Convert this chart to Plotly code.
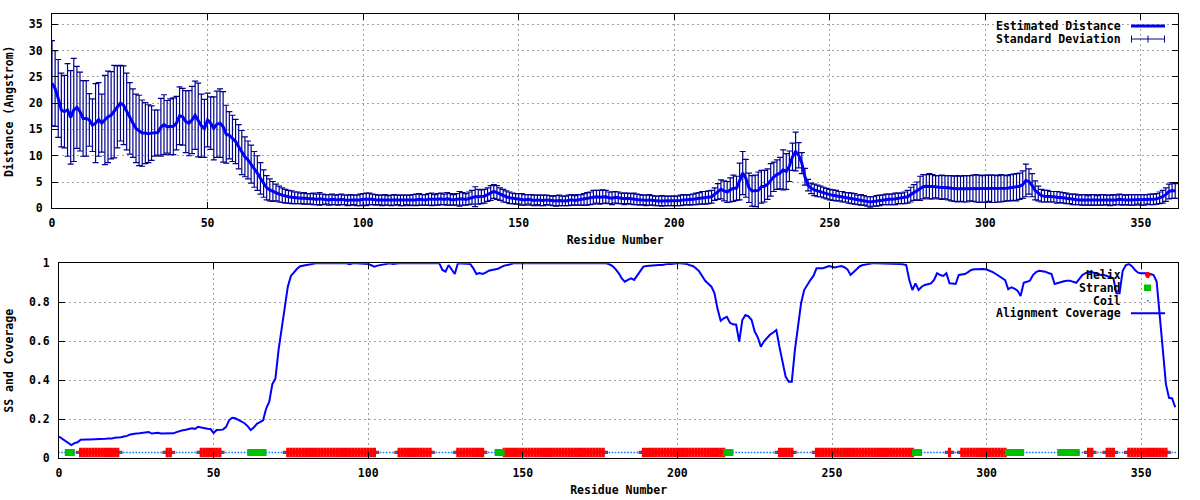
import plotly.graph_objects as go

# ---------------- data ----------------
residue = list(range(362))

est_distance = [
    23.8, 22.8, 20.9, 18.7, 18.4, 18.7, 17.3, 18.7, 19.2, 18.4,
    17.1, 17.1, 16.8, 15.8, 16.2, 16.9, 16.2, 16.8, 17.4, 17.7,
    18.4, 19.3, 20.0, 19.6, 18.4, 17.1, 16.2, 15.2, 14.8, 14.3,
    14.3, 14.2, 14.3, 14.3, 14.4, 15.4, 15.9, 15.5, 15.5, 15.6,
    16.2, 17.6, 17.4, 16.5, 16.2, 16.8, 17.7, 16.8, 15.7, 15.2,
    16.8, 16.2, 15.2, 16.0, 16.2, 15.5, 14.1, 13.9, 13.3, 12.7,
    11.7, 10.6, 9.8, 9.2, 8.4, 7.4, 6.7, 5.7, 4.7, 3.9,
    3.5, 3.2, 3.0, 2.7, 2.5, 2.3, 2.2, 2.1, 2.0, 2.0,
    1.9, 1.9, 1.8, 1.8, 1.8, 1.7, 1.8, 1.7, 1.7, 1.6,
    1.7, 1.6, 1.6, 1.7, 1.6, 1.5, 1.6, 1.6, 1.5, 1.6,
    1.7, 1.7, 1.8, 1.7, 1.6, 1.6, 1.5, 1.6, 1.5, 1.5,
    1.6, 1.6, 1.5, 1.5, 1.6, 1.5, 1.6, 1.6, 1.7, 1.6,
    1.6, 1.7, 1.7, 1.6, 1.7, 1.8, 1.7, 1.8, 1.7, 1.6,
    1.7, 1.8, 1.8, 1.7, 1.9, 2.1, 2.2, 2.2, 2.2, 2.3,
    2.6, 2.9, 3.2, 3.0, 2.7, 2.4, 2.2, 2.0, 1.9, 1.8,
    1.8, 1.7, 1.6, 1.7, 1.6, 1.5, 1.6, 1.5, 1.5, 1.6,
    1.5, 1.4, 1.4, 1.5, 1.4, 1.4, 1.5, 1.6, 1.5, 1.6,
    1.6, 1.7, 1.8, 1.9, 2.1, 2.2, 2.1, 2.2, 2.2, 2.0,
    1.9, 2.1, 2.0, 1.9, 1.8, 1.9, 1.8, 1.8, 1.7, 1.6,
    1.6, 1.5, 1.6, 1.5, 1.4, 1.4, 1.4, 1.4, 1.4, 1.4,
    1.4, 1.4, 1.5, 1.6, 1.6, 1.6, 1.7, 1.8, 1.9, 2.0,
    2.0, 2.1, 2.2, 2.7, 3.2, 3.6, 3.3, 3.1, 3.5, 3.8,
    3.8, 5.1, 6.7, 5.7, 3.9, 3.3, 3.3, 3.4, 4.1, 4.2,
    4.6, 5.4, 6.0, 6.4, 6.7, 7.3, 7.0, 8.0, 9.8, 10.8,
    10.1, 8.6, 6.0, 4.4, 3.8, 3.5, 3.3, 3.2, 3.0, 2.8,
    2.6, 2.5, 2.4, 2.3, 2.2, 2.1, 2.0, 1.9, 1.8, 1.6,
    1.6, 1.5, 1.3, 1.2, 1.3, 1.4, 1.5, 1.6, 1.7, 1.7,
    1.7, 1.8, 1.9, 1.9, 2.0, 2.2, 2.6, 3.0, 3.3, 3.8,
    4.1, 4.2, 4.2, 4.1, 4.1, 4.0, 4.0, 4.0, 3.9, 3.8,
    3.7, 3.7, 3.7, 3.7, 3.7, 3.8, 3.8, 3.8, 3.7, 3.7,
    3.7, 3.8, 3.7, 3.7, 3.7, 3.8, 3.8, 3.8, 3.9, 4.0,
    4.0, 4.2, 4.5, 5.3, 5.1, 4.4, 3.4, 2.8, 2.4, 2.3,
    2.3, 2.2, 2.2, 2.1, 2.1, 2.0, 1.9, 1.8, 1.7, 1.7,
    1.6, 1.6, 1.6, 1.5, 1.6, 1.6, 1.5, 1.6, 1.6, 1.6,
    1.5, 1.6, 1.6, 1.7, 1.6, 1.6, 1.6, 1.6, 1.6, 1.7,
    1.6, 1.6, 1.7, 1.7, 1.7, 1.8, 2.0, 2.2, 2.6, 3.2,
    3.4, 3.3,
]

std_dev = [
    8.1, 7.2, 7.4, 7.0, 6.9, 8.8, 8.9, 9.8, 7.8, 7.5,
    7.2, 7.2, 5.0, 5.0, 7.5, 7.0, 5.5, 8.5, 8.7, 8.3,
    8.8, 7.8, 7.2, 7.5, 7.3, 6.8, 6.5, 6.5, 6.7, 6.3,
    5.8, 5.5, 5.2, 4.4, 4.3, 5.5, 5.7, 5.0, 5.3, 5.4,
    5.1, 5.5, 5.4, 5.9, 6.2, 6.4, 6.5, 7.0, 6.0, 5.5,
    5.1, 5.0, 6.0, 6.3, 6.5, 6.7, 5.5, 4.5, 4.4, 4.2,
    4.2, 4.2, 3.8, 3.6, 3.6, 3.4, 3.3, 3.0, 2.6, 2.3,
    2.1, 1.9, 1.6, 1.5, 1.4, 1.3, 1.2, 1.2, 1.1, 1.1,
    1.0, 1.1, 1.0, 1.0, 1.1, 1.0, 1.2, 1.0, 0.9, 1.0,
    1.0, 0.9, 1.0, 1.0, 0.9, 1.0, 1.0, 0.9, 1.0, 1.1,
    1.1, 1.2, 1.1, 1.0, 1.0, 0.9, 1.0, 1.0, 0.9, 1.0,
    1.0, 0.9, 1.0, 1.0, 0.9, 1.0, 1.0, 1.1, 1.1, 1.0,
    1.0, 1.1, 1.2, 1.0, 1.1, 1.1, 1.0, 1.2, 1.1, 1.0,
    1.1, 1.4, 1.2, 1.1, 1.2, 1.3, 1.9, 1.4, 1.3, 1.3,
    1.3, 1.4, 1.3, 1.3, 1.2, 1.2, 1.1, 1.1, 1.0, 1.0,
    1.0, 1.1, 1.0, 0.9, 1.0, 1.0, 0.9, 1.0, 1.0, 0.9,
    0.9, 0.9, 1.0, 1.0, 0.9, 0.9, 1.0, 1.0, 0.9, 1.0,
    1.0, 1.1, 1.2, 1.2, 1.3, 1.2, 1.3, 1.3, 1.2, 1.1,
    1.2, 1.1, 1.1, 1.0, 1.1, 1.0, 1.0, 1.1, 1.0, 1.0,
    0.9, 1.0, 1.0, 0.9, 0.9, 0.9, 1.0, 0.9, 0.9, 0.9,
    0.9, 0.9, 1.0, 1.0, 0.9, 1.0, 1.0, 1.1, 1.1, 1.2,
    1.2, 1.2, 1.2, 1.2, 1.5, 1.8, 1.9, 2.0, 2.3, 2.5,
    2.3, 3.5, 4.1, 3.6, 2.8, 2.9, 3.0, 3.5, 3.1, 3.0,
    2.9, 3.1, 2.8, 2.8, 3.0, 3.8, 3.4, 2.9, 2.6, 3.7,
    2.4, 2.0, 1.6, 1.1, 1.0, 1.1, 1.1, 1.0, 1.0, 1.0,
    1.0, 1.0, 1.0, 0.9, 1.0, 0.9, 1.0, 1.0, 1.0, 0.9,
    1.0, 0.9, 0.9, 1.0, 0.9, 1.0, 1.0, 0.9, 1.0, 1.0,
    1.0, 1.1, 1.0, 1.0, 1.1, 1.2, 1.4, 1.5, 1.7, 2.3,
    2.3, 2.2, 2.4, 2.3, 2.1, 2.2, 2.3, 2.2, 2.3, 2.4,
    2.4, 2.5, 2.4, 2.5, 2.5, 2.4, 2.5, 2.6, 2.6, 2.5,
    2.6, 2.5, 2.6, 2.6, 2.5, 2.6, 2.5, 2.4, 2.5, 2.5,
    2.6, 2.5, 2.6, 3.1, 2.4, 2.2, 1.8, 1.4, 1.2, 1.1,
    1.1, 1.0, 1.0, 1.1, 1.0, 1.0, 1.0, 0.9, 1.0, 1.0,
    0.9, 1.0, 1.0, 0.9, 1.0, 1.0, 0.9, 1.0, 1.0, 0.9,
    1.0, 1.0, 0.9, 1.0, 1.0, 0.9, 1.0, 1.0, 1.0, 0.9,
    1.0, 1.0, 0.9, 1.0, 1.0, 1.0, 1.1, 1.2, 1.3, 1.4,
    1.5, 1.4,
]

coverage = [
    0.111, 0.100, 0.090, 0.075, 0.068, 0.078, 0.082, 0.095, 0.097, 0.097,
    0.097, 0.097, 0.097, 0.097, 0.098, 0.100, 0.101, 0.101, 0.105, 0.106,
    0.108, 0.112, 0.115, 0.122, 0.126, 0.127, 0.128, 0.131, 0.133, 0.135,
    0.127, 0.128, 0.131, 0.127, 0.127, 0.127, 0.127, 0.128, 0.134, 0.141,
    0.144, 0.146, 0.152, 0.154, 0.151, 0.162, 0.158, 0.153, 0.152, 0.150,
    0.130, 0.145, 0.146, 0.147, 0.160, 0.195, 0.208, 0.205, 0.197, 0.188,
    0.180, 0.165, 0.145, 0.158, 0.177, 0.185, 0.195, 0.255, 0.290, 0.380,
    0.410, 0.555, 0.660, 0.780, 0.880, 0.935, 0.955, 0.972, 0.985, 0.988,
    0.992, 0.995, 0.997, 1.0, 1.0, 1.0, 1.0, 1.0, 1.0, 1.0,
    1.0, 1.0, 1.0, 1.0, 0.995, 1.0, 1.0, 1.0, 1.0, 1.0,
    0.997, 0.990, 0.983, 0.988, 0.991, 0.995, 0.997, 1.0, 0.997, 1.0,
    1.0, 1.0, 1.0, 1.0, 1.0, 1.0, 1.0, 1.0, 1.0, 1.0,
    1.0, 1.0, 1.0, 1.0, 0.966, 0.957, 0.991, 0.966, 0.945, 1.0,
    1.0, 1.0, 1.0, 0.997, 0.974, 0.945, 0.950, 0.945, 0.952, 0.962,
    0.966, 0.969, 0.972, 0.980, 0.988, 0.991, 0.995, 1.0, 1.0, 1.0,
    1.0, 1.0, 1.0, 1.0, 1.0, 1.0, 1.0, 1.0, 1.0, 1.0,
    1.0, 1.0, 1.0, 1.0, 1.0, 1.0, 1.0, 1.0, 1.0, 1.0,
    1.0, 1.0, 1.0, 1.0, 1.0, 1.0, 1.0, 1.0, 0.995, 0.986,
    0.970, 0.950, 0.923, 0.906, 0.915, 0.923, 0.915, 0.940, 0.960, 0.983,
    0.986, 0.988, 0.988, 0.990, 0.991, 0.991, 0.995, 0.997, 0.997, 1.0,
    1.0, 1.0, 0.997, 0.997, 0.990, 0.986, 0.975, 0.960, 0.935, 0.910,
    0.895, 0.880, 0.846, 0.765, 0.705, 0.718, 0.726, 0.695, 0.687, 0.685,
    0.598, 0.709, 0.735, 0.728, 0.709, 0.650, 0.620, 0.572, 0.600, 0.620,
    0.635, 0.645, 0.658, 0.572, 0.487, 0.419, 0.393, 0.393, 0.555, 0.667,
    0.795, 0.863, 0.890, 0.914, 0.935, 0.974, 0.974, 0.974, 0.980, 0.986,
    0.982, 0.979, 0.983, 0.986, 0.980, 0.969, 0.940, 0.955, 0.974, 0.985,
    0.991, 0.995, 0.997, 1.0, 1.0, 1.0, 1.0, 1.0, 1.0, 1.0,
    1.0, 0.997, 0.997, 0.995, 0.991, 0.914, 0.863, 0.897, 0.863, 0.880,
    0.889, 0.893, 0.897, 0.915, 0.949, 0.940, 0.935, 0.949, 0.897, 0.896,
    0.894, 0.940, 0.942, 0.945, 0.955, 0.966, 0.969, 0.970, 0.971, 0.971,
    0.968, 0.962, 0.955, 0.945, 0.935, 0.925, 0.914, 0.867, 0.877, 0.870,
    0.860, 0.832, 0.900, 0.905, 0.911, 0.940, 0.955, 0.962, 0.960, 0.957,
    0.950, 0.945, 0.894, 0.900, 0.906, 0.908, 0.911, 0.911, 0.905, 0.900,
    0.920, 0.940, 0.950, 0.957, 0.955, 0.950, 0.945, 0.940, 0.940, 0.935,
    0.930, 0.923, 0.846, 0.846, 0.960, 0.990, 0.997, 0.985, 0.966, 0.952,
    0.949, 0.949, 0.949, 0.945, 0.940, 0.906, 0.726, 0.555, 0.380, 0.310,
    0.307, 0.262,
]

# secondary structure segments (first residue, last residue)
helix_segments = [(7, 19), (35, 36), (46, 52), (74, 102), (110, 120), (129, 137),
                  (144, 176), (189, 215), (233, 237), (245, 276), (288, 288),
                  (292, 306), (333, 334), (339, 341), (346, 358)]
strand_segments = [(3, 4), (62, 66), (142, 143), (216, 217), (277, 278),
                   (307, 311), (324, 329)]
SS_LEVEL = 0.03

x_ticks = [0, 50, 100, 150, 200, 250, 300, 350]
dist_ticks = [0, 5, 10, 15, 20, 25, 30, 35]
cov_ticks = [0, 0.2, 0.4, 0.6, 0.8, 1]

assert len(est_distance) == len(residue) == len(std_dev) == len(coverage)

# ---------------- derived ----------------
helix_res = [r for a, b in helix_segments for r in range(a, b + 1)]
strand_res = [r for a, b in strand_segments for r in range(a, b + 1)]
ss_taken = set(helix_res) | set(strand_res)
coil_res = [r for r in residue if r not in ss_taken]

W, H = 1200, 500
def px(x):
    return x / W
def py(y):
    return 1 - y / H

FONT = dict(family="DejaVu Sans Mono", size=11.5, color="black", weight="bold")
BLUE = "#0000ff"
NAVY = "#00008b"

fig = go.Figure()

# ---- top panel ----
fig.add_trace(go.Scatter(
    x=residue, y=est_distance, mode="markers",
    marker=dict(size=1, color=NAVY),
    error_y=dict(type="data", array=std_dev, visible=True, color=NAVY,
                 thickness=1.2, width=3),
    name="Standard Deviation", showlegend=False, xaxis="x", yaxis="y",
))
fig.add_trace(go.Scatter(
    x=residue, y=est_distance, mode="lines",
    line=dict(color=BLUE, width=3),
    name="Estimated Distance", showlegend=False, xaxis="x", yaxis="y",
))

# ---- bottom panel ----
fig.add_trace(go.Scatter(
    x=helix_res, y=[SS_LEVEL] * len(helix_res), mode="markers",
    marker=dict(symbol="cross", size=8, color="#ff0000", line=dict(width=0)),
    name="Helix", showlegend=False, xaxis="x2", yaxis="y2",
))
fig.add_trace(go.Scatter(
    x=strand_res, y=[SS_LEVEL] * len(strand_res), mode="markers",
    marker=dict(symbol="square", size=7, color="#00c000", line=dict(width=0)),
    name="Strand", showlegend=False, xaxis="x2", yaxis="y2",
))
fig.add_trace(go.Scatter(
    x=coil_res, y=[SS_LEVEL] * len(coil_res), mode="markers",
    marker=dict(symbol="square", size=1.6, color="#0080ff", line=dict(width=0)),
    name="Coil", showlegend=False, xaxis="x2", yaxis="y2",
))
fig.add_trace(go.Scatter(
    x=residue, y=coverage, mode="lines",
    line=dict(color=BLUE, width=2),
    name="Alignment Coverage", showlegend=False, xaxis="x2", yaxis="y2",
))

axis_common = dict(
    showline=True, linecolor="black", linewidth=1, mirror="ticks",
    ticks="inside", ticklen=6, tickcolor="black", tickwidth=1,
    showgrid=True, gridcolor="#a0a0a0", gridwidth=1, griddash="2px,3px",
    zeroline=False, tickfont=FONT, automargin=False,
)

fig.update_layout(
    width=W, height=H,
    margin=dict(l=0, r=0, t=0, b=0),
    paper_bgcolor="white", plot_bgcolor="white",
    font=FONT,
    showlegend=False,
    xaxis=dict(axis_common, domain=[px(52), px(1178.3)], range=[0, 362],
               tickvals=x_ticks, anchor="y", ticklabelstandoff=4,
               title=dict(text="Residue Number", font=FONT, standoff=6)),
    yaxis=dict(axis_common, domain=[py(208.3), py(14.3)], range=[0, 36.9],
               tickvals=dist_ticks, anchor="x", ticklabelstandoff=6,
               title=dict(text="Distance (Angstrom)", font=FONT, standoff=12)),
    xaxis2=dict(axis_common, domain=[px(59), px(1178.3)], range=[0, 362],
                tickvals=x_ticks, anchor="y2", ticklabelstandoff=4,
                title=dict(text="Residue Number", font=FONT, standoff=6)),
    yaxis2=dict(axis_common, domain=[py(458.3), py(263.3)], range=[0, 1],
                tickvals=cov_ticks, anchor="x2", ticklabelstandoff=6,
                title=dict(text="SS and Coverage", font=FONT, standoff=12)),
)

shapes = []
# clear the grid behind the keys (gnuplot style)
shapes.append(dict(type="rect", xref="paper", yref="paper", layer="between",
                   x0=px(985), x1=px(1177.8), y0=py(48), y1=py(14.8),
                   fillcolor="white", line=dict(width=0)))
shapes.append(dict(type="rect", xref="paper", yref="paper", layer="between",
                   x0=px(998), x1=px(1177.8), y0=py(318), y1=py(263.8),
                   fillcolor="white", line=dict(width=0)))

# key samples
def hline(x0, x1, y, color, width):
    return dict(type="line", xref="paper", yref="paper", x0=px(x0), x1=px(x1),
                y0=py(y), y1=py(y), line=dict(color=color, width=width))
def vline(x, y0, y1, color, width):
    return dict(type="line", xref="paper", yref="paper", x0=px(x), x1=px(x),
                y0=py(y0), y1=py(y1), line=dict(color=color, width=width))
def box(x0, x1, y0, y1, color):
    return dict(type="rect", xref="paper", yref="paper", x0=px(x0), x1=px(x1),
                y0=py(y1), y1=py(y0), fillcolor=color, line=dict(width=0))

shapes.append(hline(1131, 1165, 26, BLUE, 3))
shapes.append(hline(1131, 1165, 39, NAVY, 1))
shapes.append(vline(1131.5, 35.5, 42.5, NAVY, 1))
shapes.append(vline(1164.5, 35.5, 42.5, NAVY, 1))
shapes.append(vline(1148, 35.5, 42.5, NAVY, 1))
shapes.append(box(1145, 1150.5, 273.5, 276.5, "#ff0000"))
shapes.append(box(1146.3, 1149.2, 272, 278, "#ff0000"))
shapes.append(box(1144, 1151, 284.5, 291, "#00c000"))
shapes.append(box(1147, 1148.6, 300, 301.6, "#0080ff"))
shapes.append(hline(1131, 1165, 313.3, BLUE, 2))
fig.update_layout(shapes=shapes)

annotations = []
for text, y in [("Estimated Distance", 26), ("Standard Deviation", 39),
                ("Helix", 275), ("Strand", 288), ("Coil", 300.7),
                ("Alignment Coverage", 313.3)]:
    annotations.append(dict(text=text, xref="paper", yref="paper", x=px(1123),
                            y=py(y), xanchor="right", yanchor="middle",
                            showarrow=False, font=FONT))
fig.update_layout(annotations=annotations)

fig.write_html("out.html", include_plotlyjs=True,
               config={"displayModeBar": False},
               post_script="document.body.style.margin='0';")
